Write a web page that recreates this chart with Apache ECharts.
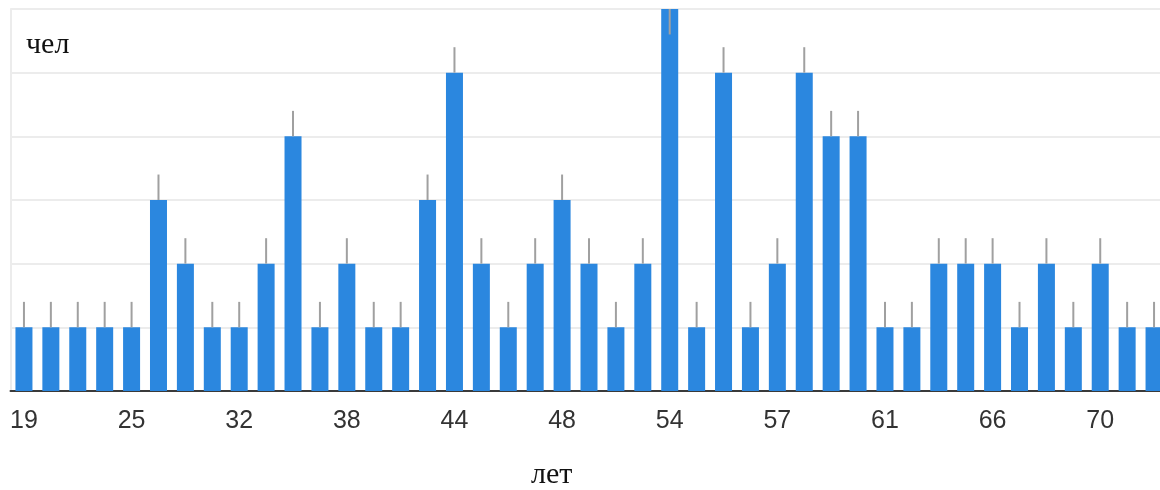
<!DOCTYPE html>
<html>
<head>
<meta charset="utf-8">
<script src="https://cdn.jsdelivr.net/npm/echarts@6/dist/echarts.min.js"></script>
<style>html,body{margin:0;padding:0;background:#fff}#c{width:1160px;height:490px}</style>
</head>
<body>
<div id="c"></div>
<script>
const ages = ['19','20','22','23','25','27','28','30','32','33','35','36','38','39','41','43','44','45','46','47','48','50','51','53','54','55','56','56','57','58','59','60','61','62','64','65','66','67','68','69','70','71','72'];
const counts = [1,1,1,1,1,3,2,1,1,2,4,1,2,1,1,3,5,2,1,2,3,2,1,2,6,1,5,1,2,5,4,4,1,1,2,2,2,1,2,1,2,1,1];
const errors = [0.4,0.4,0.4,0.4,0.4,0.4,0.4,0.4,0.4,0.4,0.4,0.4,0.4,0.4,0.4,0.4,0.4,0.4,0.4,0.4,0.4,0.4,0.4,0.4,0.4,0.4,0.4,0.4,0.4,0.4,0.4,0.4,0.4,0.4,0.4,0.4,0.4,0.4,0.4,0.4,0.4,0.4,0.4];
const yMax = 6;
const yLabel = 'чел';
const xLabel = 'лет';

const chart = echarts.init(document.getElementById('c'), null, {renderer: 'canvas'});
chart.setOption({
  animation: false,
  backgroundColor: '#fff',
  grid: {left: 10.5, top: 9, width: 1157, bottom: 99, containLabel: false, outerBoundsMode: 'none'},
  xAxis: {
    type: 'category',
    data: ages,
    axisTick: {show: false},
    axisLine: {lineStyle: {color: '#3a3a3a', width: 2}},
    axisLabel: {interval: 3, color: '#333', fontFamily: 'Liberation Sans, Arial, sans-serif', fontSize: 25, margin: 18}
  },
  yAxis: {
    type: 'value',
    min: 0, max: yMax, interval: 1,
    axisLabel: {show: false},
    axisTick: {show: false},
    axisLine: {show: true, lineStyle: {color: '#ececec', width: 2}},
    splitLine: {lineStyle: {color: '#ececec', width: 2}}
  },
  graphic: [
    {type: 'text', left: 26, top: 30, style: {text: yLabel, font: '30px "Liberation Serif", "Times New Roman", serif', fill: '#111'}},
    {type: 'text', left: 531, top: 460, style: {text: xLabel, font: '30px "Liberation Serif", "Times New Roman", serif', fill: '#111'}}
  ],
  series: [
    {
      type: 'bar',
      data: counts,
      barWidth: 17,
      itemStyle: {color: '#2b87df'},
      z: 2
    },
    {
      type: 'custom',
      z: 3,
      data: counts.map((v, i) => [i, v, errors[i]]),
      renderItem: function (params, api) {
        const i = api.value(0), v = api.value(1), e = api.value(2);
        let a = v, b = v + e;
        if (b > yMax) { a = v - e; b = v; }
        const p1 = api.coord([i, a]);
        const p2 = api.coord([i, b]);
        return {type: 'line', shape: {x1: p1[0], y1: p1[1], x2: p2[0], y2: p2[1]}, style: {stroke: '#a0a0a0', lineWidth: 2}};
      }
    }
  ]
});
</script>
</body>
</html>
